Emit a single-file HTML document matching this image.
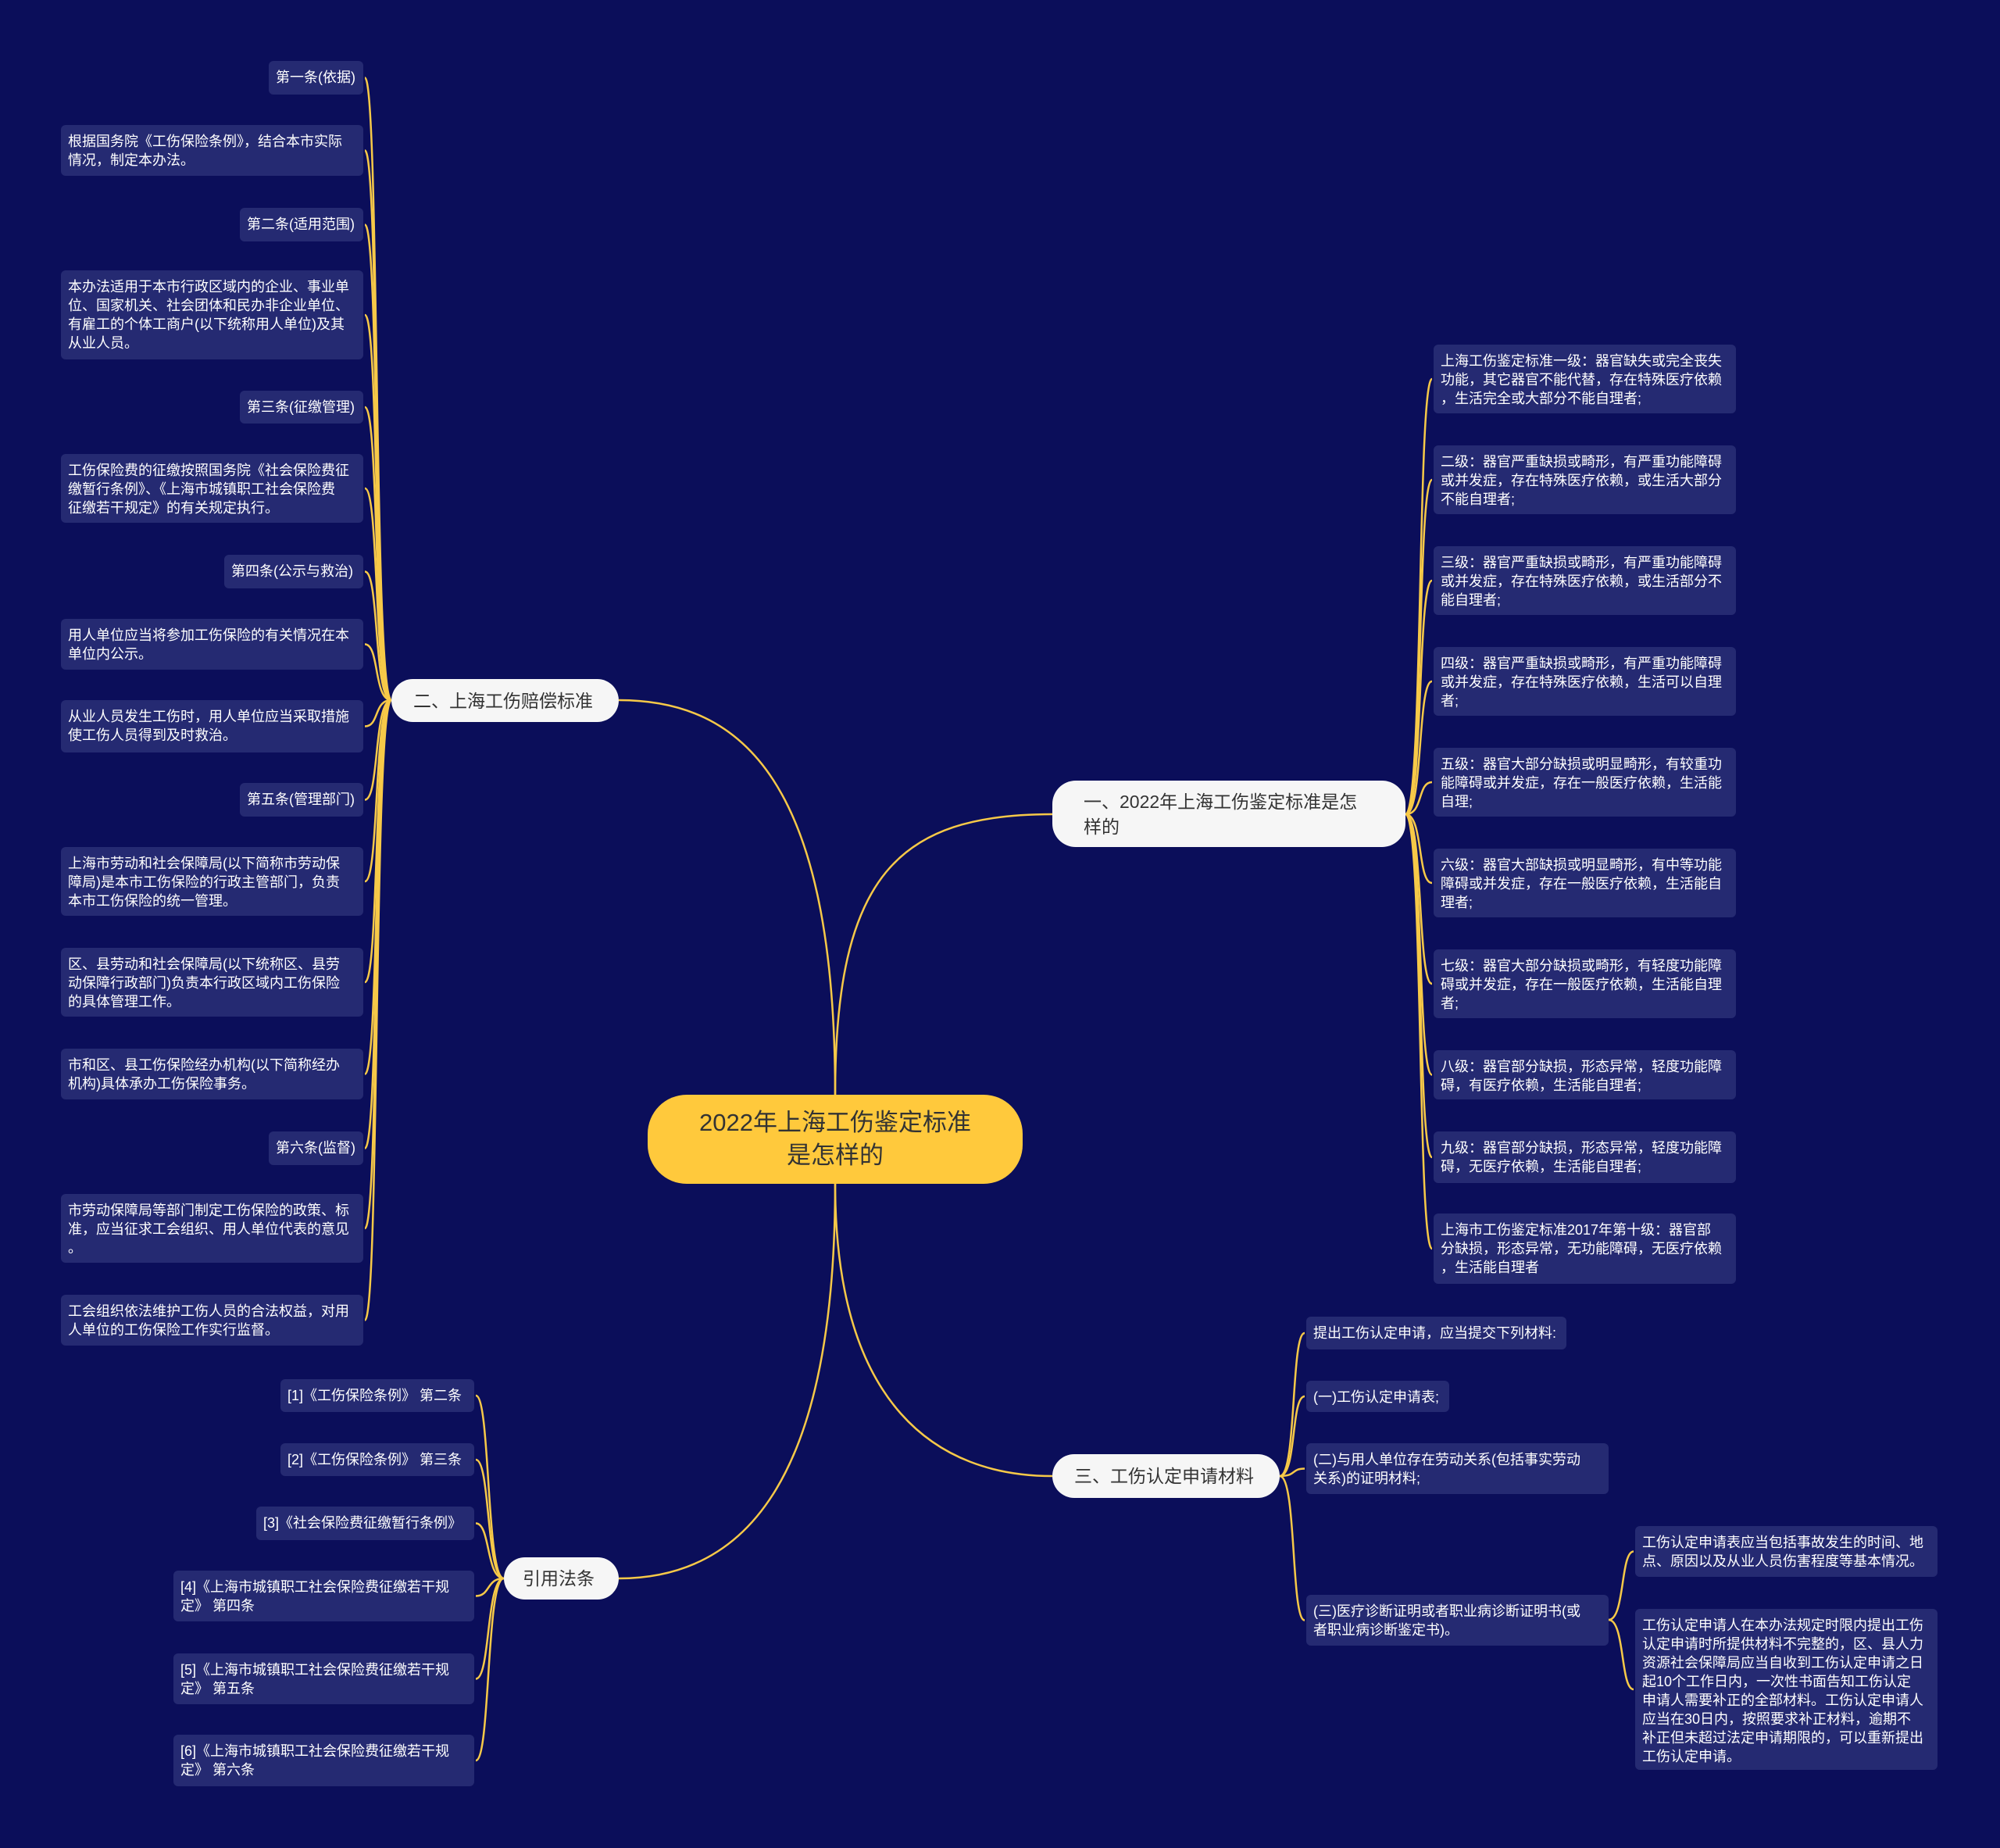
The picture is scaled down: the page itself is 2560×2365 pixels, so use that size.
<!DOCTYPE html>
<html><head><meta charset="utf-8">
<style>
html,body{margin:0;padding:0}
body{width:2560px;height:2365px;background:#0b0e5a;position:relative;overflow:hidden;font-family:"Liberation Sans","Noto Sans CJK SC",sans-serif}
.n{position:absolute;background:#252a72;color:#fff;font-size:18px;line-height:24px;padding:9px 9px;border-radius:6px;box-sizing:border-box;white-space:nowrap;}
.b{position:absolute;background:#f6f6f6;color:#333;font-size:23px;line-height:32px;border-radius:30px;box-sizing:border-box;display:flex;align-items:center;padding:0 40px;white-space:nowrap}
.c{position:absolute;background:#ffc93c;color:#333;font-size:31px;line-height:42px;border-radius:50px;box-sizing:border-box;display:flex;align-items:center;justify-content:center;text-align:center}
svg{position:absolute;left:0;top:0}
path{fill:none;stroke:#f7c948;stroke-width:2.5}
</style></head><body>
<svg width="2560" height="2365">
<!-- center to branches -->
<path d="M1069,1401 C1069,1000 950,896 792,896"/>
<path d="M1069,1401 C1069,1120 1150,1042 1347,1042"/>
<path d="M1069,1515 C1069,1800 1200,1889 1347,1889"/>
<path d="M1069,1515 C1069,1900 950,2020 792,2020"/>
<!-- 二 -->
<path d="M501,896 C478,896 486,99.5 467,99.5"/>
<path d="M501,896 C478,896 486,192.5 467,192.5"/>
<path d="M501,896 C478,896 486,287.5 467,287.5"/>
<path d="M501,896 C478,896 486,403 467,403"/>
<path d="M501,896 C478,896 486,521 467,521"/>
<path d="M501,896 C478,896 486,625 467,625"/>
<path d="M501,896 C478,896 486,731.5 467,731.5"/>
<path d="M501,896 C478,896 486,824.5 467,824.5"/>
<path d="M501,896 C478,896 486,929.5 467,929.5"/>
<path d="M501,896 C478,896 486,1023.5 467,1023.5"/>
<path d="M501,896 C478,896 486,1128 467,1128"/>
<path d="M501,896 C478,896 486,1257 467,1257"/>
<path d="M501,896 C478,896 486,1374.5 467,1374.5"/>
<path d="M501,896 C478,896 486,1469.5 467,1469.5"/>
<path d="M501,896 C478,896 486,1572 467,1572"/>
<path d="M501,896 C478,896 486,1689.5 467,1689.5"/>
<!-- 一 -->
<path d="M1799,1042 C1822,1042 1814,485 1833,485"/>
<path d="M1799,1042 C1822,1042 1814,614 1833,614"/>
<path d="M1799,1042 C1822,1042 1814,743 1833,743"/>
<path d="M1799,1042 C1822,1042 1814,872 1833,872"/>
<path d="M1799,1042 C1822,1042 1814,1001 1833,1001"/>
<path d="M1799,1042 C1822,1042 1814,1130 1833,1130"/>
<path d="M1799,1042 C1822,1042 1814,1259 1833,1259"/>
<path d="M1799,1042 C1822,1042 1814,1375.5 1833,1375.5"/>
<path d="M1799,1042 C1822,1042 1814,1481 1833,1481"/>
<path d="M1799,1042 C1822,1042 1814,1598 1833,1598"/>
<!-- 三 -->
<path d="M1638,1889 C1660,1889 1652,1706 1670,1706"/>
<path d="M1638,1889 C1660,1889 1652,1787 1670,1787"/>
<path d="M1638,1889 C1660,1889 1652,1879.5 1670,1879.5"/>
<path d="M1638,1889 C1660,1889 1652,2073.5 1670,2073.5"/>
<path d="M2059,2073 C2080,2073 2074,1985.5 2091,1985.5"/>
<path d="M2059,2073 C2080,2073 2074,2162 2091,2162"/>
<!-- 引用 -->
<path d="M645,2020 C622,2020 628,1786 609,1786"/>
<path d="M645,2020 C622,2020 628,1868 609,1868"/>
<path d="M645,2020 C622,2020 628,1949.5 609,1949.5"/>
<path d="M645,2020 C622,2020 628,2042.5 609,2042.5"/>
<path d="M645,2020 C622,2020 628,2148.5 609,2148.5"/>
<path d="M645,2020 C622,2020 628,2253 609,2253"/>
</svg>

<div class="c" style="left:829px;top:1401px;width:480px;height:114px">2022年上海工伤鉴定标准<br>是怎样的</div>

<div class="b" style="left:1347px;top:999px;width:452px;height:85px;padding:0 40px">一、2022年上海工伤鉴定标准是怎<br>样的</div>
<div class="b" style="left:501px;top:869px;width:291px;height:55px;padding:0 28px">二、上海工伤赔偿标准</div>
<div class="b" style="left:1347px;top:1861px;width:291px;height:56px;padding:0 28px">三、工伤认定申请材料</div>
<div class="b" style="left:645px;top:1993px;width:147px;height:54px;padding:0 24px">引用法条</div>

<!-- 二 leaves -->
<div class="n" style="left:344px;top:78px;width:121px;height:43px">第一条(依据)</div>
<div class="n" style="left:78px;top:160px;width:387px;height:65px">根据国务院《工伤保险条例》，结合本市实际<br>情况，制定本办法。</div>
<div class="n" style="left:307px;top:266px;width:158px;height:43px">第二条(适用范围)</div>
<div class="n" style="left:78px;top:346px;width:387px;height:114px">本办法适用于本市行政区域内的企业、事业单<br>位、国家机关、社会团体和民办非企业单位、<br>有雇工的个体工商户(以下统称用人单位)及其<br>从业人员。</div>
<div class="n" style="left:307px;top:500px;width:158px;height:42px">第三条(征缴管理)</div>
<div class="n" style="left:78px;top:581px;width:387px;height:88px">工伤保险费的征缴按照国务院《社会保险费征<br>缴暂行条例》、《上海市城镇职工社会保险费<br>征缴若干规定》的有关规定执行。</div>
<div class="n" style="left:287px;top:710px;width:178px;height:43px">第四条(公示与救治)</div>
<div class="n" style="left:78px;top:792px;width:387px;height:65px">用人单位应当将参加工伤保险的有关情况在本<br>单位内公示。</div>
<div class="n" style="left:78px;top:896px;width:387px;height:67px">从业人员发生工伤时，用人单位应当采取措施<br>使工伤人员得到及时救治。</div>
<div class="n" style="left:307px;top:1002px;width:158px;height:43px">第五条(管理部门)</div>
<div class="n" style="left:78px;top:1084px;width:387px;height:88px">上海市劳动和社会保障局(以下简称市劳动保<br>障局)是本市工伤保险的行政主管部门，负责<br>本市工伤保险的统一管理。</div>
<div class="n" style="left:78px;top:1213px;width:387px;height:88px">区、县劳动和社会保障局(以下统称区、县劳<br>动保障行政部门)负责本行政区域内工伤保险<br>的具体管理工作。</div>
<div class="n" style="left:78px;top:1342px;width:387px;height:65px">市和区、县工伤保险经办机构(以下简称经办<br>机构)具体承办工伤保险事务。</div>
<div class="n" style="left:344px;top:1448px;width:121px;height:43px">第六条(监督)</div>
<div class="n" style="left:78px;top:1528px;width:387px;height:88px">市劳动保障局等部门制定工伤保险的政策、标<br>准，应当征求工会组织、用人单位代表的意见<br>。</div>
<div class="n" style="left:78px;top:1657px;width:387px;height:65px">工会组织依法维护工伤人员的合法权益，对用<br>人单位的工伤保险工作实行监督。</div>

<!-- 一 leaves -->
<div class="n" style="left:1835px;top:441px;width:387px;height:88px">上海工伤鉴定标准一级：器官缺失或完全丧失<br>功能，其它器官不能代替，存在特殊医疗依赖<br>，生活完全或大部分不能自理者;</div>
<div class="n" style="left:1835px;top:570px;width:387px;height:88px">二级：器官严重缺损或畸形，有严重功能障碍<br>或并发症，存在特殊医疗依赖，或生活大部分<br>不能自理者;</div>
<div class="n" style="left:1835px;top:699px;width:387px;height:88px">三级：器官严重缺损或畸形，有严重功能障碍<br>或并发症，存在特殊医疗依赖，或生活部分不<br>能自理者;</div>
<div class="n" style="left:1835px;top:828px;width:387px;height:88px">四级：器官严重缺损或畸形，有严重功能障碍<br>或并发症，存在特殊医疗依赖，生活可以自理<br>者;</div>
<div class="n" style="left:1835px;top:957px;width:387px;height:88px">五级：器官大部分缺损或明显畸形，有较重功<br>能障碍或并发症，存在一般医疗依赖，生活能<br>自理;</div>
<div class="n" style="left:1835px;top:1086px;width:387px;height:88px">六级：器官大部缺损或明显畸形，有中等功能<br>障碍或并发症，存在一般医疗依赖，生活能自<br>理者;</div>
<div class="n" style="left:1835px;top:1215px;width:387px;height:88px">七级：器官大部分缺损或畸形，有轻度功能障<br>碍或并发症，存在一般医疗依赖，生活能自理<br>者;</div>
<div class="n" style="left:1835px;top:1344px;width:387px;height:63px">八级：器官部分缺损，形态异常，轻度功能障<br>碍，有医疗依赖，生活能自理者;</div>
<div class="n" style="left:1835px;top:1448px;width:387px;height:66px">九级：器官部分缺损，形态异常，轻度功能障<br>碍，无医疗依赖，生活能自理者;</div>
<div class="n" style="left:1835px;top:1553px;width:387px;height:90px">上海市工伤鉴定标准2017年第十级：器官部<br>分缺损，形态异常，无功能障碍，无医疗依赖<br>，生活能自理者</div>

<!-- 三 leaves -->
<div class="n" style="left:1672px;top:1685px;width:333px;height:42px">提出工伤认定申请，应当提交下列材料:</div>
<div class="n" style="left:1672px;top:1767px;width:183px;height:40px">(一)工伤认定申请表;</div>
<div class="n" style="left:1672px;top:1847px;width:387px;height:65px">(二)与用人单位存在劳动关系(包括事实劳动<br>关系)的证明材料;</div>
<div class="n" style="left:1672px;top:2041px;width:387px;height:65px">(三)医疗诊断证明或者职业病诊断证明书(或<br>者职业病诊断鉴定书)。</div>
<div class="n" style="left:2093px;top:1953px;width:387px;height:65px">工伤认定申请表应当包括事故发生的时间、地<br>点、原因以及从业人员伤害程度等基本情况。</div>
<div class="n" style="left:2093px;top:2059px;width:387px;height:206px">工伤认定申请人在本办法规定时限内提出工伤<br>认定申请时所提供材料不完整的，区、县人力<br>资源社会保障局应当自收到工伤认定申请之日<br>起10个工作日内，一次性书面告知工伤认定<br>申请人需要补正的全部材料。工伤认定申请人<br>应当在30日内，按照要求补正材料，逾期不<br>补正但未超过法定申请期限的，可以重新提出<br>工伤认定申请。</div>

<!-- 引用 leaves -->
<div class="n" style="left:359px;top:1765px;width:248px;height:42px">[1]《工伤保险条例》 第二条</div>
<div class="n" style="left:359px;top:1847px;width:248px;height:42px">[2]《工伤保险条例》 第三条</div>
<div class="n" style="left:328px;top:1928px;width:279px;height:43px">[3]《社会保险费征缴暂行条例》</div>
<div class="n" style="left:222px;top:2010px;width:385px;height:65px">[4]《上海市城镇职工社会保险费征缴若干规<br>定》 第四条</div>
<div class="n" style="left:222px;top:2116px;width:385px;height:65px">[5]《上海市城镇职工社会保险费征缴若干规<br>定》 第五条</div>
<div class="n" style="left:222px;top:2220px;width:385px;height:66px">[6]《上海市城镇职工社会保险费征缴若干规<br>定》 第六条</div>
</body></html>
